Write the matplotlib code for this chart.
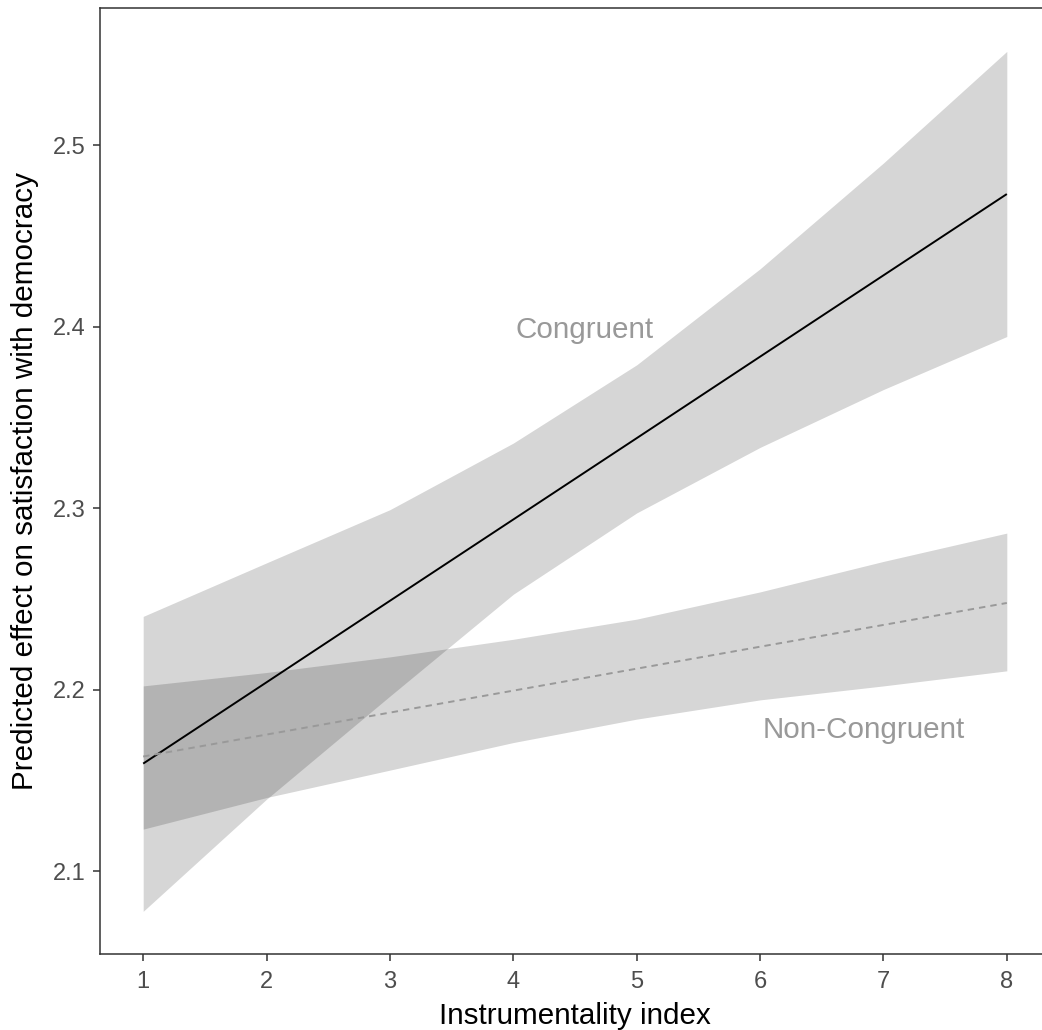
import matplotlib
matplotlib.use("Agg")
import matplotlib.pyplot as plt
import numpy as np

# ---- data ----
x_vals = [1, 2, 3, 4, 5, 6, 7, 8]

cong_fit   = [2.1594, 2.2042, 2.2491, 2.2939, 2.3387, 2.3836, 2.4284, 2.4732]
cong_upper = [2.2405, 2.2700, 2.2993, 2.3360, 2.3791, 2.4320, 2.4903, 2.5518]
cong_lower = [2.0780, 2.1398, 2.1966, 2.2527, 2.2975, 2.3336, 2.3655, 2.3947]

non_fit   = [2.1633, 2.1754, 2.1875, 2.1996, 2.2117, 2.2238, 2.2358, 2.2479]
non_upper = [2.2022, 2.2096, 2.2182, 2.2279, 2.2390, 2.2540, 2.2708, 2.2864]
non_lower = [2.1233, 2.1407, 2.1558, 2.1710, 2.1839, 2.1945, 2.2022, 2.2105]

x_ticks = [1, 2, 3, 4, 5, 6, 7, 8]
y_ticks = [2.1, 2.2, 2.3, 2.4, 2.5]

labels = ["Congruent", "Non-Congruent"]
label_pos_x = [4.58, 6.84]
label_pos_y = [2.3982, 2.1778]

plt.rcParams['font.family'] = ['Liberation Sans', 'DejaVu Sans']

W, H = 1042, 1030
fig = plt.figure(figsize=(W / 100, H / 100), dpi=100)
ax = fig.add_axes([100 / W, (H - 954) / H, (1050 - 100) / W, (954 - 8) / H])

ax.fill_between(x_vals, cong_lower, cong_upper, color='black', alpha=0.16, linewidth=0)
ax.fill_between(x_vals, non_lower, non_upper, color='black', alpha=0.16, linewidth=0)
ax.plot(x_vals, cong_fit, color='black', lw=1.4, solid_capstyle='butt')
ax.plot(x_vals, non_fit, color='#999999', lw=1.4, linestyle=(0, (3.3, 2.6)))

ax.text(label_pos_x[0], label_pos_y[0], labels[0], color='#999999', fontsize=21.3,
        ha='center', va='center')
ax.text(label_pos_x[1], label_pos_y[1], labels[1], color='#999999', fontsize=21.3,
        ha='center', va='center')

ax.set_xlim(0.65, 8.35)
ax.set_ylim(2.0545, 2.5757)
ax.set_xticks(x_ticks)
ax.set_xticklabels([str(v) for v in x_ticks])
ax.set_yticks(y_ticks)
ax.set_yticklabels([f"{v:.1f}" for v in y_ticks])

for s in ax.spines.values():
    s.set_color('#333333')
    s.set_linewidth(1.1)
ax.tick_params(axis='both', colors='#333333', length=5, width=1.1,
               labelsize=17, labelcolor='#4d4d4d')
ax.tick_params(axis='x', pad=7)
ax.tick_params(axis='y', pad=5)

ax.set_xlabel("Instrumentality index", fontsize=21.3, color='black', labelpad=6.5)
ax.set_ylabel("Predicted effect on satisfaction with democracy", fontsize=21.3,
              color='black', labelpad=10)

fig.savefig("out.png", dpi=100)
